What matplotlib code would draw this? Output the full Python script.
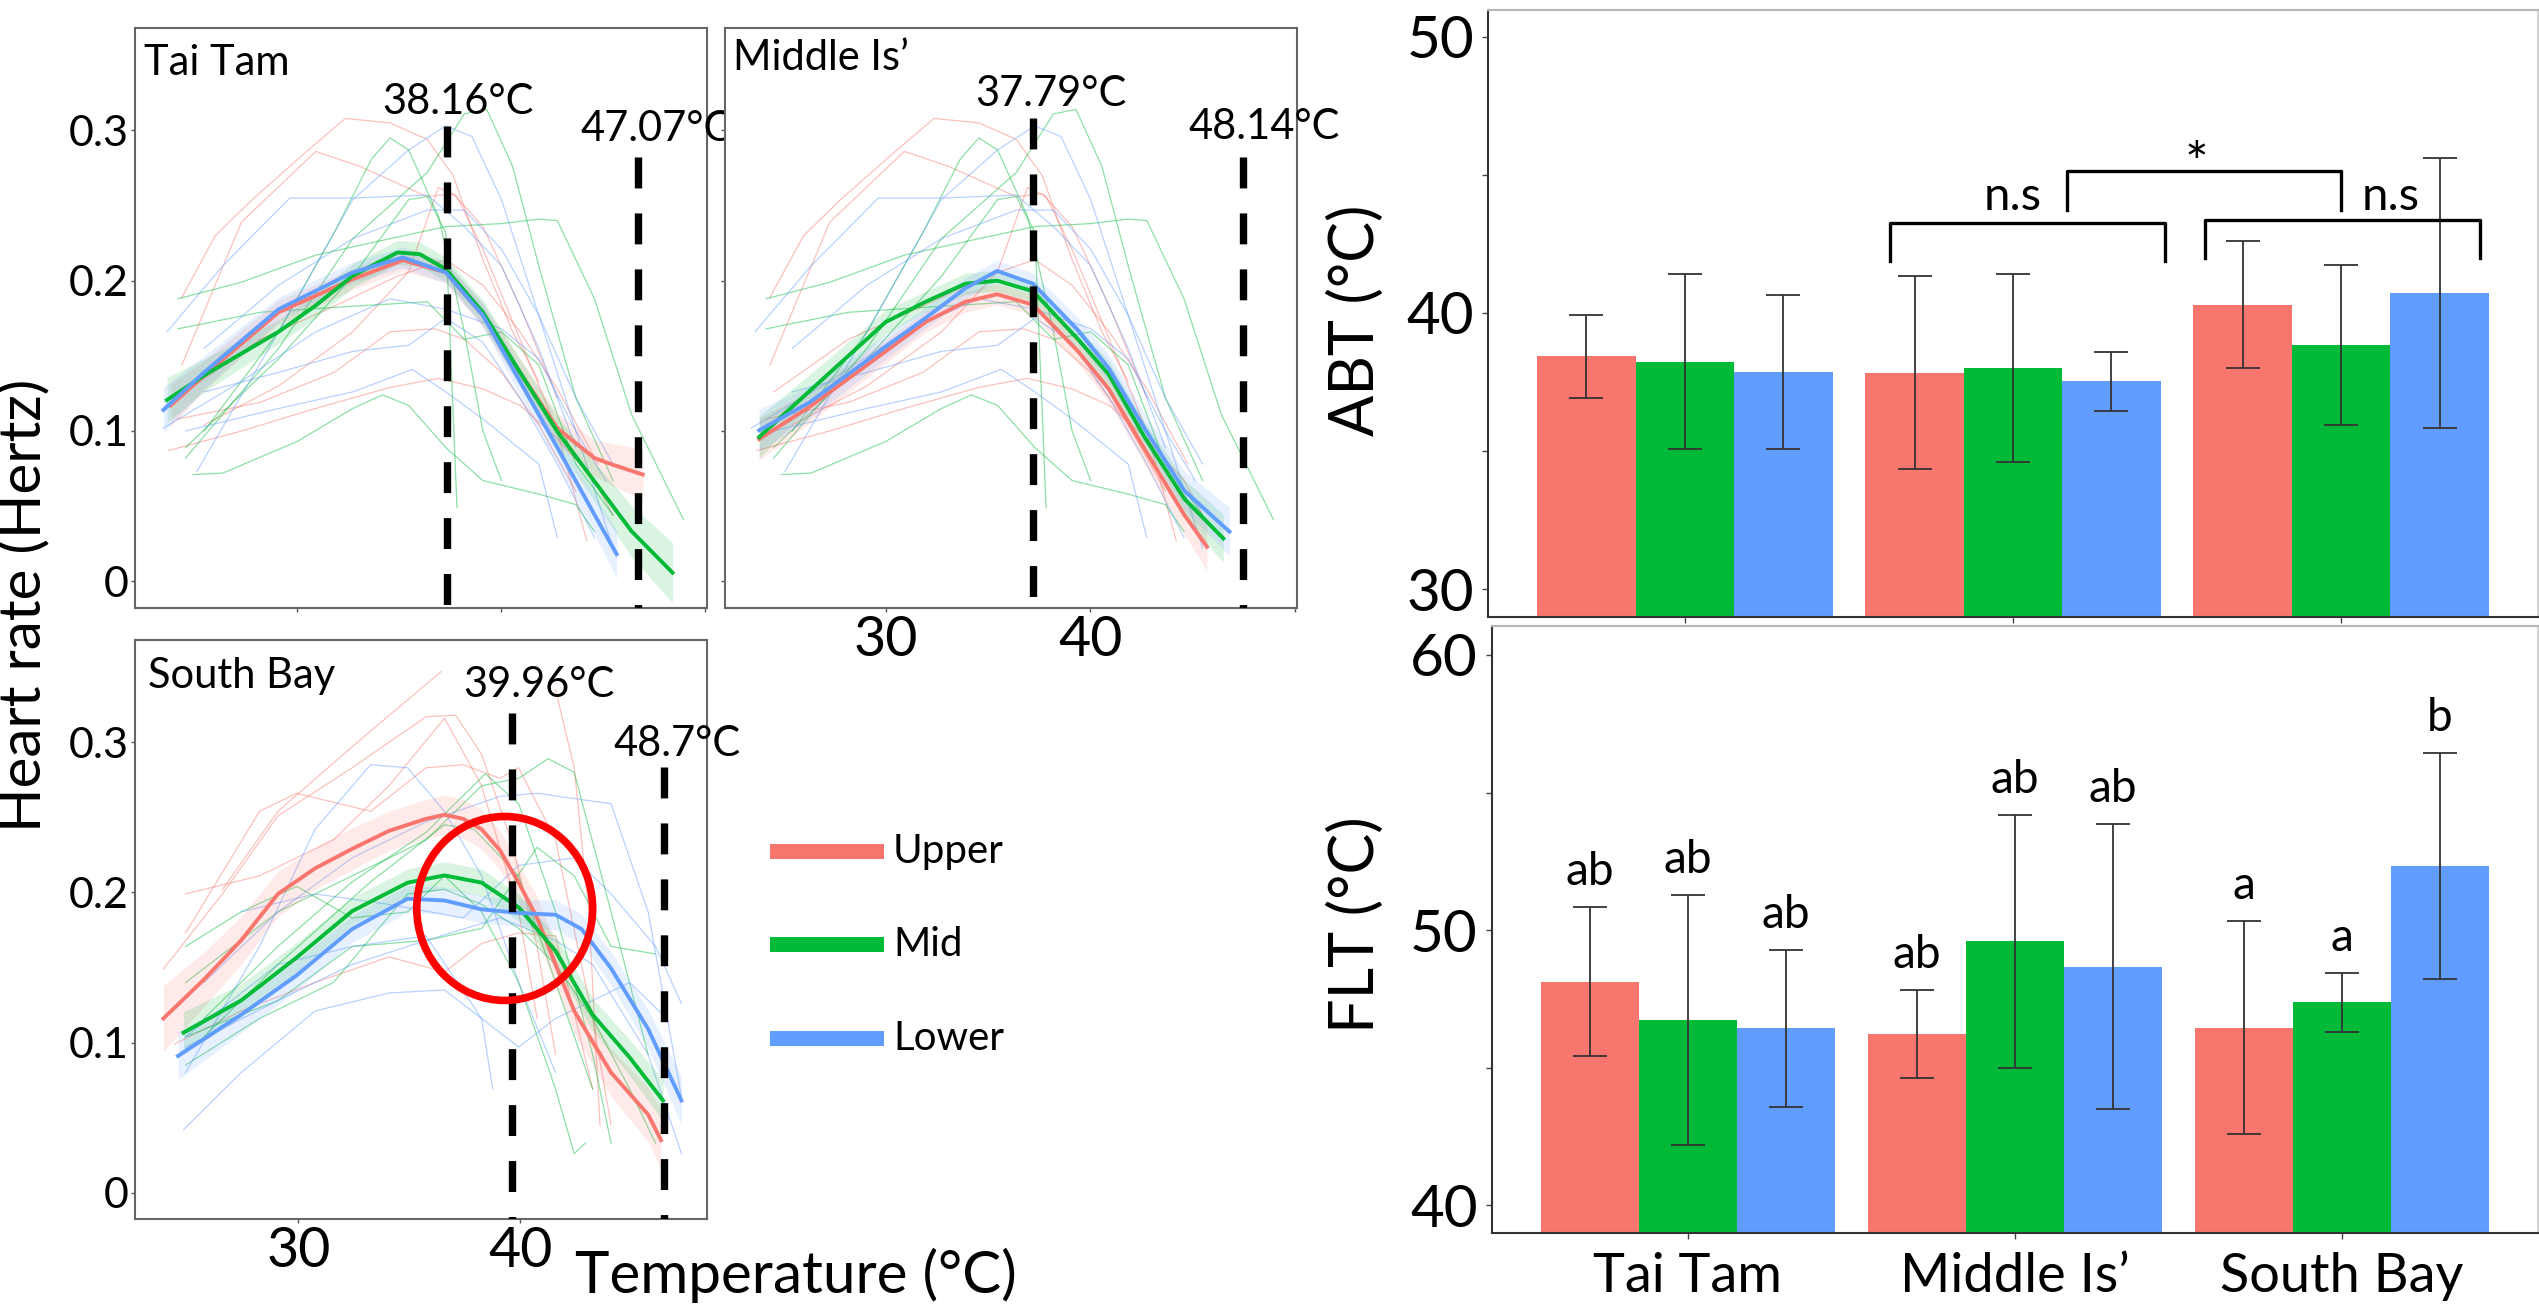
import numpy as np
import matplotlib
matplotlib.use('Agg')
import matplotlib.pyplot as plt
from matplotlib.patches import Ellipse, Rectangle

plt.rcParams['font.family'] = ['Lato', 'DejaVu Sans']

groups = ['Upper', 'Mid', 'Lower']
colors = ['#F8766D', '#00BA38', '#619CFF']
sites = ['Tai Tam', 'Middle Is\u2019', 'South Bay']

# ---- smoothed mean heart-rate curves (x = temperature, y = Hz, se = ribbon half width)
tt_upper_x = [23.8, 25.44, 29.09, 32.73, 35.19, 37.29, 39.11, 40.93, 42.76, 44.58, 45.49, 46.95]
tt_upper_y = [0.117, 0.137, 0.179, 0.201, 0.2137, 0.2055, 0.177, 0.139, 0.1018, 0.082, 0.0775, 0.071]
tt_upper_se = [0.014, 0.01, 0.008, 0.007, 0.007, 0.007, 0.008, 0.009, 0.01, 0.012, 0.014, 0.017]
tt_mid_x = [23.62, 25.44, 29.09, 30.91, 32.73, 34.92, 36.01, 37.29, 39.11, 40.93, 42.76, 44.58, 46.4, 48.41]
tt_mid_y = [0.1206, 0.137, 0.166, 0.1835, 0.2033, 0.2188, 0.2177, 0.2077, 0.179, 0.139, 0.0996, 0.0665, 0.0333, 0.0057]
tt_mid_se = [0.015, 0.011, 0.008, 0.008, 0.008, 0.008, 0.008, 0.008, 0.008, 0.009, 0.01, 0.013, 0.017, 0.02]
tt_lower_x = [23.44, 25.44, 29.09, 32.73, 35.19, 37.29, 39.11, 40.93, 42.76, 44.58, 45.67]
tt_lower_y = [0.114, 0.139, 0.181, 0.2055, 0.2155, 0.2055, 0.177, 0.133, 0.089, 0.0444, 0.018]
tt_lower_se = [0.015, 0.011, 0.008, 0.007, 0.007, 0.007, 0.008, 0.009, 0.01, 0.013, 0.016]

mi_x = [23.82, 26.26, 30.0, 31.96, 33.9, 35.45, 37.2, 39.4, 40.9, 42.65, 44.6]
mi_upper_x = mi_x + [45.7]
mi_upper_y = [0.0946, 0.1158, 0.153, 0.1726, 0.186, 0.191, 0.184, 0.153, 0.128, 0.088, 0.044, 0.023]
mi_mid_x = mi_x + [46.5]
mi_mid_y = [0.096, 0.1263, 0.1725, 0.186, 0.198, 0.200, 0.193, 0.161, 0.1377, 0.096, 0.0548, 0.0285]
mi_lower_x = mi_x + [46.8]
mi_lower_y = [0.1005, 0.1188, 0.156, 0.1753, 0.195, 0.2065, 0.198, 0.167, 0.1418, 0.1018, 0.0602, 0.033]
mi_se = [0.014, 0.011, 0.008, 0.007, 0.007, 0.007, 0.007, 0.008, 0.009, 0.01, 0.013, 0.016]

sb_upper_x = [23.92, 25.75, 27.42, 29.08, 30.75, 32.42, 34.08, 35.75, 36.58, 37.42, 38.25, 39.08,
              39.92, 40.75, 41.58, 42.42, 44.08, 45.75, 46.33]
sb_upper_y = [0.116, 0.142, 0.168, 0.199, 0.216, 0.229, 0.241, 0.249, 0.2517, 0.249, 0.242, 0.228,
              0.2065, 0.183, 0.152, 0.121, 0.080, 0.052, 0.035]
sb_upper_se = [0.022, 0.018, 0.016, 0.015, 0.014, 0.014, 0.013, 0.013, 0.013, 0.013, 0.013, 0.013,
               0.013, 0.014, 0.014, 0.015, 0.016, 0.018, 0.02]
sb_mid_x = [24.83, 27.42, 29.92, 32.42, 34.92, 36.58, 38.25, 39.92, 41.58, 43.25, 44.92, 46.42]
sb_mid_y = [0.1066, 0.128, 0.1566, 0.1875, 0.2065, 0.2113, 0.2065, 0.190, 0.161, 0.1185, 0.090, 0.0614]
sb_mid_se = [0.014, 0.011, 0.01, 0.009, 0.009, 0.009, 0.009, 0.009, 0.01, 0.011, 0.012, 0.014]
sb_lower_x = [24.58, 27.42, 29.92, 32.42, 34.92, 36.58, 38.25, 39.92, 41.58, 42.75, 44.08, 45.75, 47.25]
sb_lower_y = [0.0911, 0.1185, 0.1447, 0.1756, 0.1958, 0.1946, 0.1887, 0.1863, 0.1851, 0.1756, 0.1494, 0.109, 0.0614]
sb_lower_se = [0.016, 0.012, 0.01, 0.009, 0.009, 0.009, 0.009, 0.009, 0.01, 0.01, 0.011, 0.013, 0.016]

# ---- individual heart-rate traces (same set shown for Tai Tam and Middle Is')
hk_upper_traces = [
    ([24.35, 25.99, 27.8, 30.55, 32.37, 34.56, 36.38, 37.65, 39.11, 40.57, 41.85],
     [0.189, 0.230, 0.254, 0.287, 0.308, 0.305, 0.294, 0.270, 0.214, 0.166, 0.133]),
    ([24.35, 27.27, 30.91, 33.1, 34.56, 36.38, 37.65, 39.11, 40.93, 42.76],
     [0.144, 0.239, 0.286, 0.276, 0.267, 0.256, 0.258, 0.236, 0.183, 0.122]),
    ([23.7, 27.27, 30.91, 34.56, 36.93, 39.11, 40.93, 42.76, 44.58, 45.49],
     [0.087, 0.100, 0.115, 0.129, 0.135, 0.128, 0.117, 0.095, 0.067, 0.044]),
    ([24.17, 28.18, 31.82, 34.56, 36.75, 38.2, 40.02, 41.85, 43.67],
     [0.108, 0.119, 0.139, 0.166, 0.168, 0.161, 0.139, 0.104, 0.06]),
    ([25.44, 29.09, 32.73, 35.47, 36.93, 37.84, 39.11, 40.93, 42.76, 44.2],
     [0.104, 0.13, 0.166, 0.206, 0.262, 0.256, 0.221, 0.161, 0.1, 0.027]),
    ([24.53, 28.18, 31.82, 34.92, 37.29, 39.11, 40.93, 42.76, 44.76],
     [0.126, 0.161, 0.183, 0.203, 0.214, 0.197, 0.166, 0.128, 0.078]),
]
hk_mid_traces = [
    ([24.53, 29.09, 32.73, 36.38, 38.2, 39.3, 40.57, 41.85, 43.67, 45.49],
     [0.082, 0.155, 0.228, 0.272, 0.311, 0.314, 0.276, 0.21, 0.122, 0.067]),
    ([25.44, 29.09, 31.82, 33.65, 34.56, 35.47, 36.93, 38.2, 39.11, 40.02],
     [0.1, 0.166, 0.232, 0.281, 0.295, 0.287, 0.243, 0.166, 0.1, 0.067]),
    ([24.17, 27.27, 30.91, 34.56, 37.29, 40.02, 41.85, 42.76, 44.58, 46.4, 48.95],
     [0.188, 0.199, 0.217, 0.228, 0.236, 0.238, 0.241, 0.24, 0.188, 0.111, 0.041]),
    ([24.9, 26.36, 30.0, 32.73, 34.19, 35.47, 37.29, 39.11, 41.85, 43.67, 44.58],
     [0.071, 0.072, 0.093, 0.115, 0.124, 0.117, 0.089, 0.067, 0.058, 0.051, 0.033]),
    ([24.17, 28.18, 32.73, 36.38, 38.2, 40.02, 41.85, 43.67, 45.49],
     [0.168, 0.179, 0.183, 0.186, 0.161, 0.166, 0.144, 0.078, 0.044]),
    ([24.53, 29.09, 32.73, 35.47, 36.38, 37.29, 37.84],
     [0.089, 0.148, 0.203, 0.254, 0.256, 0.232, 0.049]),
]
hk_lower_traces = [
    ([25.08, 29.09, 32.73, 35.47, 37.29, 38.57, 40.02, 41.85, 43.67, 45.13],
     [0.073, 0.166, 0.254, 0.287, 0.303, 0.296, 0.254, 0.177, 0.1, 0.067]),
    ([23.62, 26.36, 29.64, 32.73, 36.38, 38.2, 40.02, 41.85, 43.67],
     [0.166, 0.21, 0.255, 0.255, 0.257, 0.236, 0.21, 0.155, 0.089]),
    ([23.44, 27.27, 30.91, 34.56, 37.29, 40.02, 41.85, 43.67, 45.49],
     [0.102, 0.133, 0.166, 0.188, 0.181, 0.168, 0.148, 0.1, 0.022]),
    ([25.44, 29.09, 32.73, 35.47, 37.29, 39.11, 40.93, 42.76, 44.58],
     [0.126, 0.139, 0.153, 0.157, 0.175, 0.159, 0.122, 0.078, 0.029]),
    ([25.44, 29.09, 32.73, 36.38, 38.2, 40.02, 41.85, 43.67, 45.49],
     [0.155, 0.197, 0.228, 0.247, 0.247, 0.221, 0.177, 0.122, 0.078]),
    ([24.53, 29.09, 32.73, 35.65, 37.29, 39.11, 41.85, 42.76],
     [0.1, 0.115, 0.126, 0.141, 0.126, 0.108, 0.078, 0.029]),
]
sb_upper_traces = [
    ([26.58, 29.08, 32.42, 36.42], [0.202, 0.254, 0.297, 0.347]),
    ([23.92, 26.58, 29.08, 32.42, 35.75, 37.08, 38.25, 39.58, 40.75, 41.58],
     [0.149, 0.199, 0.251, 0.283, 0.317, 0.318, 0.292, 0.235, 0.164, 0.092]),
    ([24.92, 28.25, 31.58, 34.08, 36.58, 38.25, 39.92, 40.75],
     [0.199, 0.211, 0.235, 0.271, 0.316, 0.271, 0.187, 0.116]),
    ([24.92, 28.25, 29.92, 33.25, 35.75, 37.42, 39.08, 39.92, 41.58, 43.25, 44.08],
     [0.173, 0.254, 0.266, 0.254, 0.283, 0.285, 0.276, 0.283, 0.235, 0.116, 0.045]),
    ([24.42, 27.42, 30.75, 34.08, 36.58, 38.25, 39.92, 41.58, 43.25],
     [0.099, 0.121, 0.140, 0.157, 0.147, 0.166, 0.173, 0.171, 0.069]),
    ([41.58, 42.42, 43.08, 43.58], [0.335, 0.283, 0.187, 0.045]),
]
sb_mid_traces = [
    ([24.92, 29.08, 32.42, 35.75, 38.25, 39.92, 41.25, 42.42, 44.08, 45.75],
     [0.140, 0.187, 0.211, 0.235, 0.271, 0.276, 0.289, 0.280, 0.187, 0.092]),
    ([25.75, 29.08, 32.42, 35.75, 38.42, 39.92, 41.58, 43.25, 44.08],
     [0.116, 0.164, 0.207, 0.240, 0.279, 0.259, 0.187, 0.092, 0.033]),
    ([24.92, 27.42, 29.92, 32.42, 34.92, 36.58, 38.25, 39.92, 41.58, 42.42, 42.92],
     [0.164, 0.187, 0.204, 0.183, 0.187, 0.211, 0.187, 0.140, 0.069, 0.026, 0.033]),
    ([24.92, 29.08, 32.42, 35.75, 38.25, 40.75, 42.42, 44.08, 46.08],
     [0.104, 0.128, 0.164, 0.168, 0.176, 0.230, 0.211, 0.164, 0.159]),
    ([24.92, 28.25, 31.58, 34.92, 36.58, 38.25, 39.92, 41.58, 43.25, 44.92, 46.08],
     [0.085, 0.116, 0.140, 0.199, 0.202, 0.192, 0.176, 0.152, 0.116, 0.069, 0.033]),
    ([25.75, 29.08, 33.25, 36.58, 37.92, 39.92, 41.58, 43.25],
     [0.104, 0.152, 0.207, 0.245, 0.242, 0.211, 0.140, 0.069]),
]
sb_lower_traces = [
    ([24.92, 28.25, 30.75, 33.25, 34.92, 36.58, 38.25, 39.92, 41.58],
     [0.080, 0.164, 0.242, 0.285, 0.283, 0.254, 0.211, 0.140, 0.080]),
    ([25.75, 29.08, 32.42, 35.75, 39.08, 40.75, 44.08, 45.75, 47.25],
     [0.140, 0.187, 0.223, 0.247, 0.264, 0.266, 0.259, 0.187, 0.064]),
    ([24.83, 27.42, 30.75, 34.08, 36.58, 38.25, 39.92, 41.58, 43.25, 44.92, 46.58],
     [0.042, 0.080, 0.121, 0.133, 0.135, 0.116, 0.097, 0.116, 0.128, 0.140, 0.116]),
    ([24.92, 29.08, 32.42, 35.75, 38.25, 38.75], [0.104, 0.152, 0.164, 0.171, 0.116, 0.069]),
    ([27.42, 30.75, 34.08, 37.42, 39.92, 42.42, 44.08, 46.08, 47.25],
     [0.187, 0.199, 0.192, 0.183, 0.218, 0.223, 0.199, 0.164, 0.126]),
    ([24.92, 29.08, 32.42, 35.75, 39.08, 41.58, 43.25, 45.75, 47.25],
     [0.097, 0.128, 0.152, 0.168, 0.183, 0.168, 0.152, 0.092, 0.026]),
]

# ---- threshold markers on the curve panels (drawn position, top of line, label)
abt_line_x = [37.37, 37.2, 39.63]
abt_line_top = [0.303, 0.308, 0.3196]
abt_labels = ['38.16\u00b0C', '37.79\u00b0C', '39.96\u00b0C']
abt_label_x = [37.9, 38.1, 40.85]
abt_label_y = [0.311, 0.3164, 0.3302]
flt_line_x = [46.73, 47.46, 46.45]
flt_line_top = [0.2825, 0.2825, 0.2834]
flt_labels = ['47.07\u00b0C', '48.14\u00b0C', '48.7\u00b0C']
flt_label_x = [47.6, 48.5, 47.06]
flt_label_y = [0.2933, 0.2941, 0.291]

# ---- bar data: one value per site (Tai Tam, Middle Is', South Bay)
abt_upper = [38.43, 37.84, 40.29]
abt_mid = [38.23, 38.00, 38.83]
abt_lower = [37.87, 37.52, 40.73]
abt_upper_sd = [1.50, 3.49, 2.30]
abt_mid_sd = [3.17, 3.41, 2.89]
abt_lower_sd = [2.79, 1.07, 4.89]
flt_upper = [48.13, 46.22, 46.46]
flt_mid = [46.73, 49.59, 47.38]
flt_lower = [46.43, 48.68, 52.33]
flt_upper_sd = [2.71, 1.60, 3.88]
flt_mid_sd = [4.55, 4.58, 1.07]
flt_lower_sd = [2.84, 5.18, 4.10]
flt_letters_upper = ['ab', 'ab', 'a']
flt_letters_mid = ['ab', 'ab', 'a']
flt_letters_lower = ['ab', 'ab', 'b']

# brackets on ABT panel: x1, x2, bar height, leg end
abt_brackets = [(1.625, 2.463, 43.25, 41.88), (2.585, 3.424, 43.35, 41.98), (2.165, 3.0, 45.15, 43.72)]
abt_bracket_text = ['n.s', 'n.s', '*']
abt_bracket_text_x = [2.0, 3.15, 2.56]
abt_bracket_text_y = [43.72, 43.72, 44.75]
abt_bracket_size = [34, 34, 40]

W, H = 2539, 1305
fig = plt.figure(figsize=(W / 100, H / 100), dpi=100)


def px_axes(l, t, r, b):
    return fig.add_axes([l / W, 1 - b / H, (r - l) / W, (b - t) / H])


def curve_panel(ax, means, traces, xlim, k, title, title_xy, xticks, xlabels):
    for c, tr in zip(colors, traces):
        for tx, ty in tr:
            ax.plot(tx, ty, color=c, lw=0.9, alpha=0.45, zorder=1)
    for c, (mx, my, se) in zip(colors, means):
        mx, my, se = np.array(mx), np.array(my), np.array(se)
        ax.fill_between(mx, my - se, my + se, color=c, alpha=0.15, lw=0, zorder=2)
    for c, (mx, my, se) in zip(colors, means):
        ax.plot(mx, my, color=c, lw=2.8, zorder=3)
    ylo = -0.0178
    for lx, top in [(abt_line_x[k], abt_line_top[k]), (flt_line_x[k], flt_line_top[k])]:
        ax.plot([lx, lx], [top, ylo], color='black', lw=5.3, dashes=(4.2, 3.4),
                solid_capstyle='butt', dash_capstyle='butt', zorder=4)
    ax.text(abt_label_x[k], abt_label_y[k], abt_labels[k], ha='center', va='baseline',
            fontsize=30, clip_on=False, zorder=5)
    ax.text(flt_label_x[k], flt_label_y[k], flt_labels[k], ha='center', va='baseline',
            fontsize=30, clip_on=False, zorder=5)
    ax.text(title_xy[0], title_xy[1], title, transform=ax.transAxes, ha='left',
            va='baseline', fontsize=30)
    ax.set_yticks([0, 0.1, 0.2, 0.3])
    ax.set_xticks(xticks)
    ax.set_xlim(*xlim)
    ax.set_ylim(ylo, 0.3683)
    ax.tick_params(axis='y', labelsize=31, length=3, width=1, color='#555555', pad=2)
    ax.tick_params(axis='x', labelsize=40, length=3, width=1, color='#555555', pad=2)
    ax.set_xticklabels(xlabels)
    for s in ax.spines.values():
        s.set_color('#666666')
        s.set_linewidth(1.5)


ax_tt = px_axes(135.4, 27.8, 707, 608)
curve_panel(ax_tt,
            [(tt_upper_x, tt_upper_y, tt_upper_se), (tt_mid_x, tt_mid_y, tt_mid_se),
             (tt_lower_x, tt_lower_y, tt_lower_se)],
            [hk_upper_traces, hk_mid_traces, hk_lower_traces],
            (22.07, 50.1), 0, sites[0], (0.015, 0.918), [30, 40, 50], ['', '', ''])
ax_tt.set_yticklabels(['0', '0.1', '0.2', '0.3'])

ax_mi = px_axes(725.4, 27.8, 1297, 608)
curve_panel(ax_mi,
            [(mi_upper_x, mi_upper_y, mi_se), (mi_mid_x, mi_mid_y, mi_se),
             (mi_lower_x, mi_lower_y, mi_se)],
            [hk_upper_traces, hk_mid_traces, hk_lower_traces],
            (22.17, 50.1), 1, sites[1], (0.013, 0.927), [30, 40, 50], ['30', '40', ''])
ax_mi.set_yticklabels([])

ax_sb = px_axes(135.4, 639.7, 707, 1219.4)
curve_panel(ax_sb,
            [(sb_upper_x, sb_upper_y, sb_upper_se), (sb_mid_x, sb_mid_y, sb_mid_se),
             (sb_lower_x, sb_lower_y, sb_lower_se)],
            [sb_upper_traces, sb_mid_traces, sb_lower_traces],
            (22.66, 48.4), 2, sites[2], (0.022, 0.917), [30, 40], ['30', '40'])
ax_sb.set_yticklabels(['0', '0.1', '0.2', '0.3'])
ax_sb.add_patch(Ellipse((39.29, 0.1893), 7.92, 0.1225, fill=False, ec='#FF0000',
                        lw=5.5, zorder=6, clip_on=False))

fig.text(24 / W, 1 - 605 / H, 'Heart rate (Hertz)', rotation=90, ha='center', va='center',
         fontsize=42)
fig.text(575 / W, 1 - 1293 / H, 'Temperature (\u00b0C)', ha='left', va='baseline', fontsize=42)

# legend
leg_y = [851, 944, 1038]
for g, c, yy in zip(groups, colors, leg_y):
    fig.add_artist(Rectangle((770 / W, 1 - (yy + 7.5) / H), 114 / W, 15 / H,
                             transform=fig.transFigure, color=c, lw=0))
    fig.text(893 / W, 1 - yy / H, g, ha='left', va='center', fontsize=29)


def bar_panel(ax, vals, sds, ylim, ticks):
    x = np.arange(1, 4)
    offs = [-0.3, 0.0, 0.3]
    for c, v, sd, o in zip(colors, vals, sds, offs):
        ax.bar(x + o, v, width=0.3, color=c, zorder=2)
        ax.errorbar(x + o, v, yerr=sd, fmt='none', ecolor='#333333', elinewidth=1.3,
                    capsize=12, capthick=1.3, zorder=3)
    ax.set_yticks(ticks)
    ax.set_xticks(x)
    ax.set_xlim(0.4, 3.6)
    ax.set_ylim(*ylim)
    ax.set_yticklabels([str(t) if i % 2 == 0 else '' for i, t in enumerate(ticks)])
    ax.tick_params(axis='y', labelsize=42, length=4, width=1, color='#444444', pad=6)
    ax.tick_params(axis='x', labelsize=39, length=4, width=1, color='#444444', pad=10)
    ax.spines['left'].set_color('#333333')
    ax.spines['bottom'].set_color('#333333')
    ax.spines['top'].set_color('#B5B5B5')
    ax.spines['right'].set_color('#D5D5D5')
    for s in ax.spines.values():
        s.set_linewidth(1.5)


ax_abt = px_axes(1488, 9.8, 2538, 617)
bar_panel(ax_abt, [abt_upper, abt_mid, abt_lower], [abt_upper_sd, abt_mid_sd, abt_lower_sd],
          (28.99, 50.97), [30, 35, 40, 45, 50])
ax_abt.set_xticklabels([])
for (x1, x2, yb, y0), t, tx, ty, fs in zip(abt_brackets, abt_bracket_text, abt_bracket_text_x,
                                           abt_bracket_text_y, abt_bracket_size):
    ax_abt.plot([x1, x1, x2, x2], [y0, yb, yb, y0], color='black', lw=2.4,
                solid_joinstyle='round', zorder=4)
    ax_abt.text(tx, ty, t, ha='center', va='baseline', fontsize=fs, zorder=5)
fig.text(1356 / W, 1 - 320 / H, 'ABT (\u00b0C)', rotation=90, ha='center', va='center',
         fontsize=44)

ax_flt = px_axes(1491.6, 626, 2538, 1233)
bar_panel(ax_flt, [flt_upper, flt_mid, flt_lower], [flt_upper_sd, flt_mid_sd, flt_lower_sd],
          (39.0, 61.05), [40, 45, 50, 55, 60])
ax_flt.set_xticklabels(sites)
for o, v, sd, lab in zip([-0.3, 0.0, 0.3], [flt_upper, flt_mid, flt_lower],
                         [flt_upper_sd, flt_mid_sd, flt_lower_sd],
                         [flt_letters_upper, flt_letters_mid, flt_letters_lower]):
    for i in range(3):
        ax_flt.text(i + 1 + o, v[i] + sd[i] + 0.8, lab[i], ha='center', va='baseline',
                    fontsize=33, zorder=5)
fig.text(1356 / W, 1 - 925 / H, 'FLT (\u00b0C)', rotation=90, ha='center', va='center',
         fontsize=44)

fig.savefig('out.png', dpi=100)
